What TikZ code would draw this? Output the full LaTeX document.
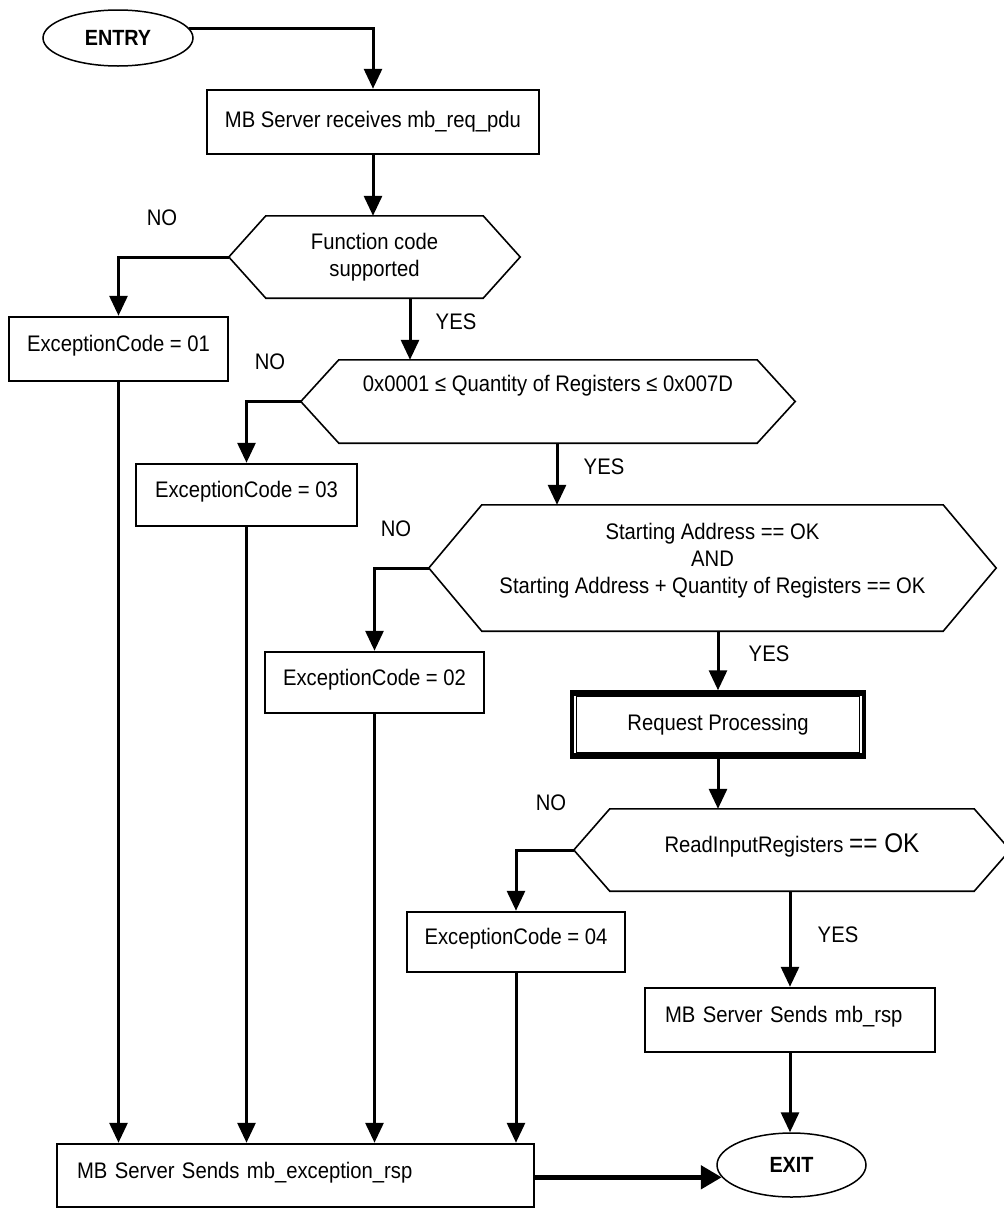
\documentclass[tikz,border=0pt]{standalone}
\usepackage{fontspec}
\setmainfont[FakeStretch=0.9]{Liberation Sans}
\usetikzlibrary{arrows.meta,shapes.geometric}
\newcommand\hexdraw[2]{\draw[hexline] ([xshift=#2pt]#1.north west) -- ([xshift=-#2pt]#1.north east) -- (#1.east) -- ([xshift=-#2pt]#1.south east) -- ([xshift=#2pt]#1.south west) -- (#1.west) -- cycle;}
\begin{document}
\begin{tikzpicture}[x=1pt,y=-1pt,
  font=\fontsize{22.5}{27}\selectfont,
  proc/.style={draw, line width=2.5pt, inner sep=0pt, align=center},
  hexa/.style={inner sep=0pt, align=center},
  hexline/.style={line width=1.6pt, line join=miter},
  term/.style={draw, ellipse, line width=1.5pt, inner sep=0pt, font=\fontsize{22}{26}\selectfont\bfseries},
  lbl/.style={inner sep=0pt},
  conn/.style={line width=3pt, -{Triangle[length=20pt,width=18pt]}},
  shiftup/.style={text height=16pt, text depth=4.5pt+2*#1},
]
\useasboundingbox (0,0) rectangle (1004,1208);

% terminals
\node[term, minimum width=150pt, minimum height=56pt] (entry) at (118,38) {ENTRY};
\node[term, minimum width=149pt, minimum height=64pt] (exit) at (791.5,1165) {EXIT};

% process boxes
\node[proc, minimum width=332pt, minimum height=64pt] (b1) at (373,122) {MB Server receives mb\_req\_pdu};
\node[proc, minimum width=219pt, minimum height=64pt, shiftup=3pt] (e1) at (118.5,349) {ExceptionCode = 01};
\node[proc, minimum width=221pt, minimum height=62pt, shiftup=3pt] (e3) at (246.5,495) {ExceptionCode = 03};
\node[proc, minimum width=219pt, minimum height=61pt, shiftup=3pt] (e2) at (374.5,682.5) {ExceptionCode = 02};
\node[proc, minimum width=218pt, minimum height=60pt, shiftup=3pt] (e4) at (516,942) {ExceptionCode = 04};
\node[proc, line width=3.5pt, minimum width=292pt, minimum height=65pt] (rp) at (718,724.5) {Request Processing};
\node[proc, minimum height=64pt, text width=250pt, inner xsep=20pt, align=left, shiftup=3pt] (rsp) at (790,1020) {MB Server Sends mb\_rsp};
\node[proc, minimum height=63pt, text width=437pt, inner xsep=20pt, align=left, shiftup=3pt] (exc) at (295.5,1175.5) {MB Server Sends mb\_exception\_rsp};

% inner frame of Request Processing
\draw[line width=1.2pt] ([shift={(6,6)}]rp.north west) rectangle ([shift={(-6,-6)}]rp.south east);
\fill (rp.north west) rectangle ([shift={(0,5.5)}]rp.north east);
\fill ([shift={(0,-5.5)}]rp.south west) rectangle (rp.south east);

% decisions
\node[hexa, minimum width=291pt, minimum height=82pt] (h1) at (374.5,257) {Function code\\supported};
\hexdraw{h1}{37}
\node[hexa, minimum width=494pt, minimum height=83pt, shiftup=16pt] (h2) at (548,401.5) {0x0001 ≤ Quantity of Registers ≤ 0x007D};
\hexdraw{h2}{38}
\node[hexa, minimum width=567pt, minimum height=126pt, text depth=20pt] (h3) at (712.5,568) {Starting Address == OK\\AND\\Starting Address + Quantity of Registers == OK};
\hexdraw{h3}{53}
\node[hexa, minimum width=436pt, minimum height=82pt, shiftup=3pt] (h4) at (792,850) {ReadInputRegisters {\fontsize{27}{29}\selectfont == OK}};
\hexdraw{h4}{36}

% labels
\node[lbl] (no1) at (162,218) {NO};
\node[lbl] (no2) at (270,362) {NO};
\node[lbl] (no3) at (396,529) {NO};
\node[lbl] (no4) at (551,803) {NO};
\node[lbl] (yes1) at (456,322) {YES};
\node[lbl] (yes2) at (604,467) {YES};
\node[lbl] (yes3) at (769,654) {YES};
\node[lbl] (yes4) at (838,935) {YES};

% helper coordinates
\coordinate (c1) at (410,0);
\coordinate (c2) at (557,0);

% connectors
\draw[conn] (entry.8) -| (b1.north);
\draw[conn] (b1.south) -- (h1.north -| b1.south);
\draw[conn] (h1.west) -| (e1.north);
\draw[conn] (h1.south -| c1) -- (h2.north -| c1);
\draw[conn] (h2.west) -| (e3.north);
\draw[conn] (h2.south -| c2) -- (h3.north -| c2);
\draw[conn] (h3.west) -| (e2.north);
\draw[conn] (h3.south -| rp.north) -- (rp.north);
\draw[conn] (rp.south) -- (h4.north -| rp.south);
\draw[conn] (h4.west) -| (e4.north);
\draw[conn] (h4.south -| rsp.north) -- (rsp.north);
\draw[conn] (rsp.south) -- (exit.north -| rsp.south);
\draw[conn] (e1.south) -- (exc.north -| e1.south);
\draw[conn] (e3.south) -- (exc.north -| e3.south);
\draw[conn] (e2.south) -- (exc.north -| e2.south);
\draw[conn] (e4.south) -- (exc.north -| e4.south);
\draw[line width=5pt, -{Triangle[length=21pt,width=23pt]}] (exc.east |- exit.190) -- (exit.190);
\end{tikzpicture}
\end{document}
